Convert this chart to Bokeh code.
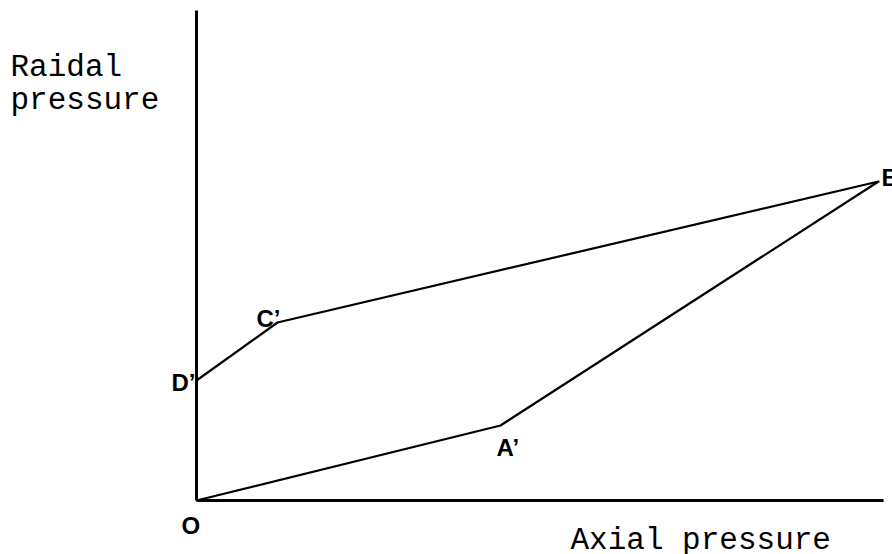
from bokeh.plotting import figure
from bokeh.models import Range1d, ColumnDataSource, Label
from bokeh.core.properties import value
from bokeh.embed import file_html
from bokeh.resources import INLINE

# Stress path in the axial / radial pressure plane (arbitrary units)
points = ["O", "A’", "B", "C’", "D’"]
axial = [0, 304, 682, 81, 0]
radial = [0, 75, 319, 178, 120]

axis_extent_x = 687
axis_extent_y = 490

W, H = 892, 554
p = figure(width=W, height=H, output_backend="svg", toolbar_location=None,
           x_axis_type=None, y_axis_type=None, min_border=0,
           x_range=Range1d(-196, W - 196), y_range=Range1d(500 - H, 500))
p.grid.visible = False
p.outline_line_color = None
p.background_fill_color = "white"
p.border_fill_color = "white"

# axes drawn as plain lines meeting at the origin
p.segment(x0=[0, 0], y0=[0, 0], x1=[axis_extent_x, 0], y1=[0, axis_extent_y],
          line_color="black", line_width=3)

# the loading path
p.line(axial, radial, line_color="black", line_width=2.2, line_join="round")

# point labels, nudged off their points
offsets = {"O": (-15, -25), "A’": (-4, -22), "B": (3, 4), "C’": (-21, 4), "D’": (-25, -2)}
src = ColumnDataSource(dict(
    x=[a + offsets[n][0] for a, n in zip(axial, points)],
    y=[r + offsets[n][1] for r, n in zip(radial, points)],
    t=points))
p.text("x", "y", text="t", source=src, text_font=value("Liberation Sans"),
       text_font_style="bold", text_font_size="24px", text_color="black",
       text_baseline="alphabetic", text_align="left")

font = "Liberation Mono"
for txt, sx, sy in [("Raidal", 10, H - 67), ("pressure", 10, H - 100),
                    ("Axial pressure", 570, H - 540)]:
    p.add_layout(Label(x=sx, y=sy, x_units="screen", y_units="screen", text=txt,
                       text_font=font, text_font_size="31px", text_color="black",
                       text_baseline="alphabetic"))

open("out.html", "w").write(file_html(p, INLINE))
